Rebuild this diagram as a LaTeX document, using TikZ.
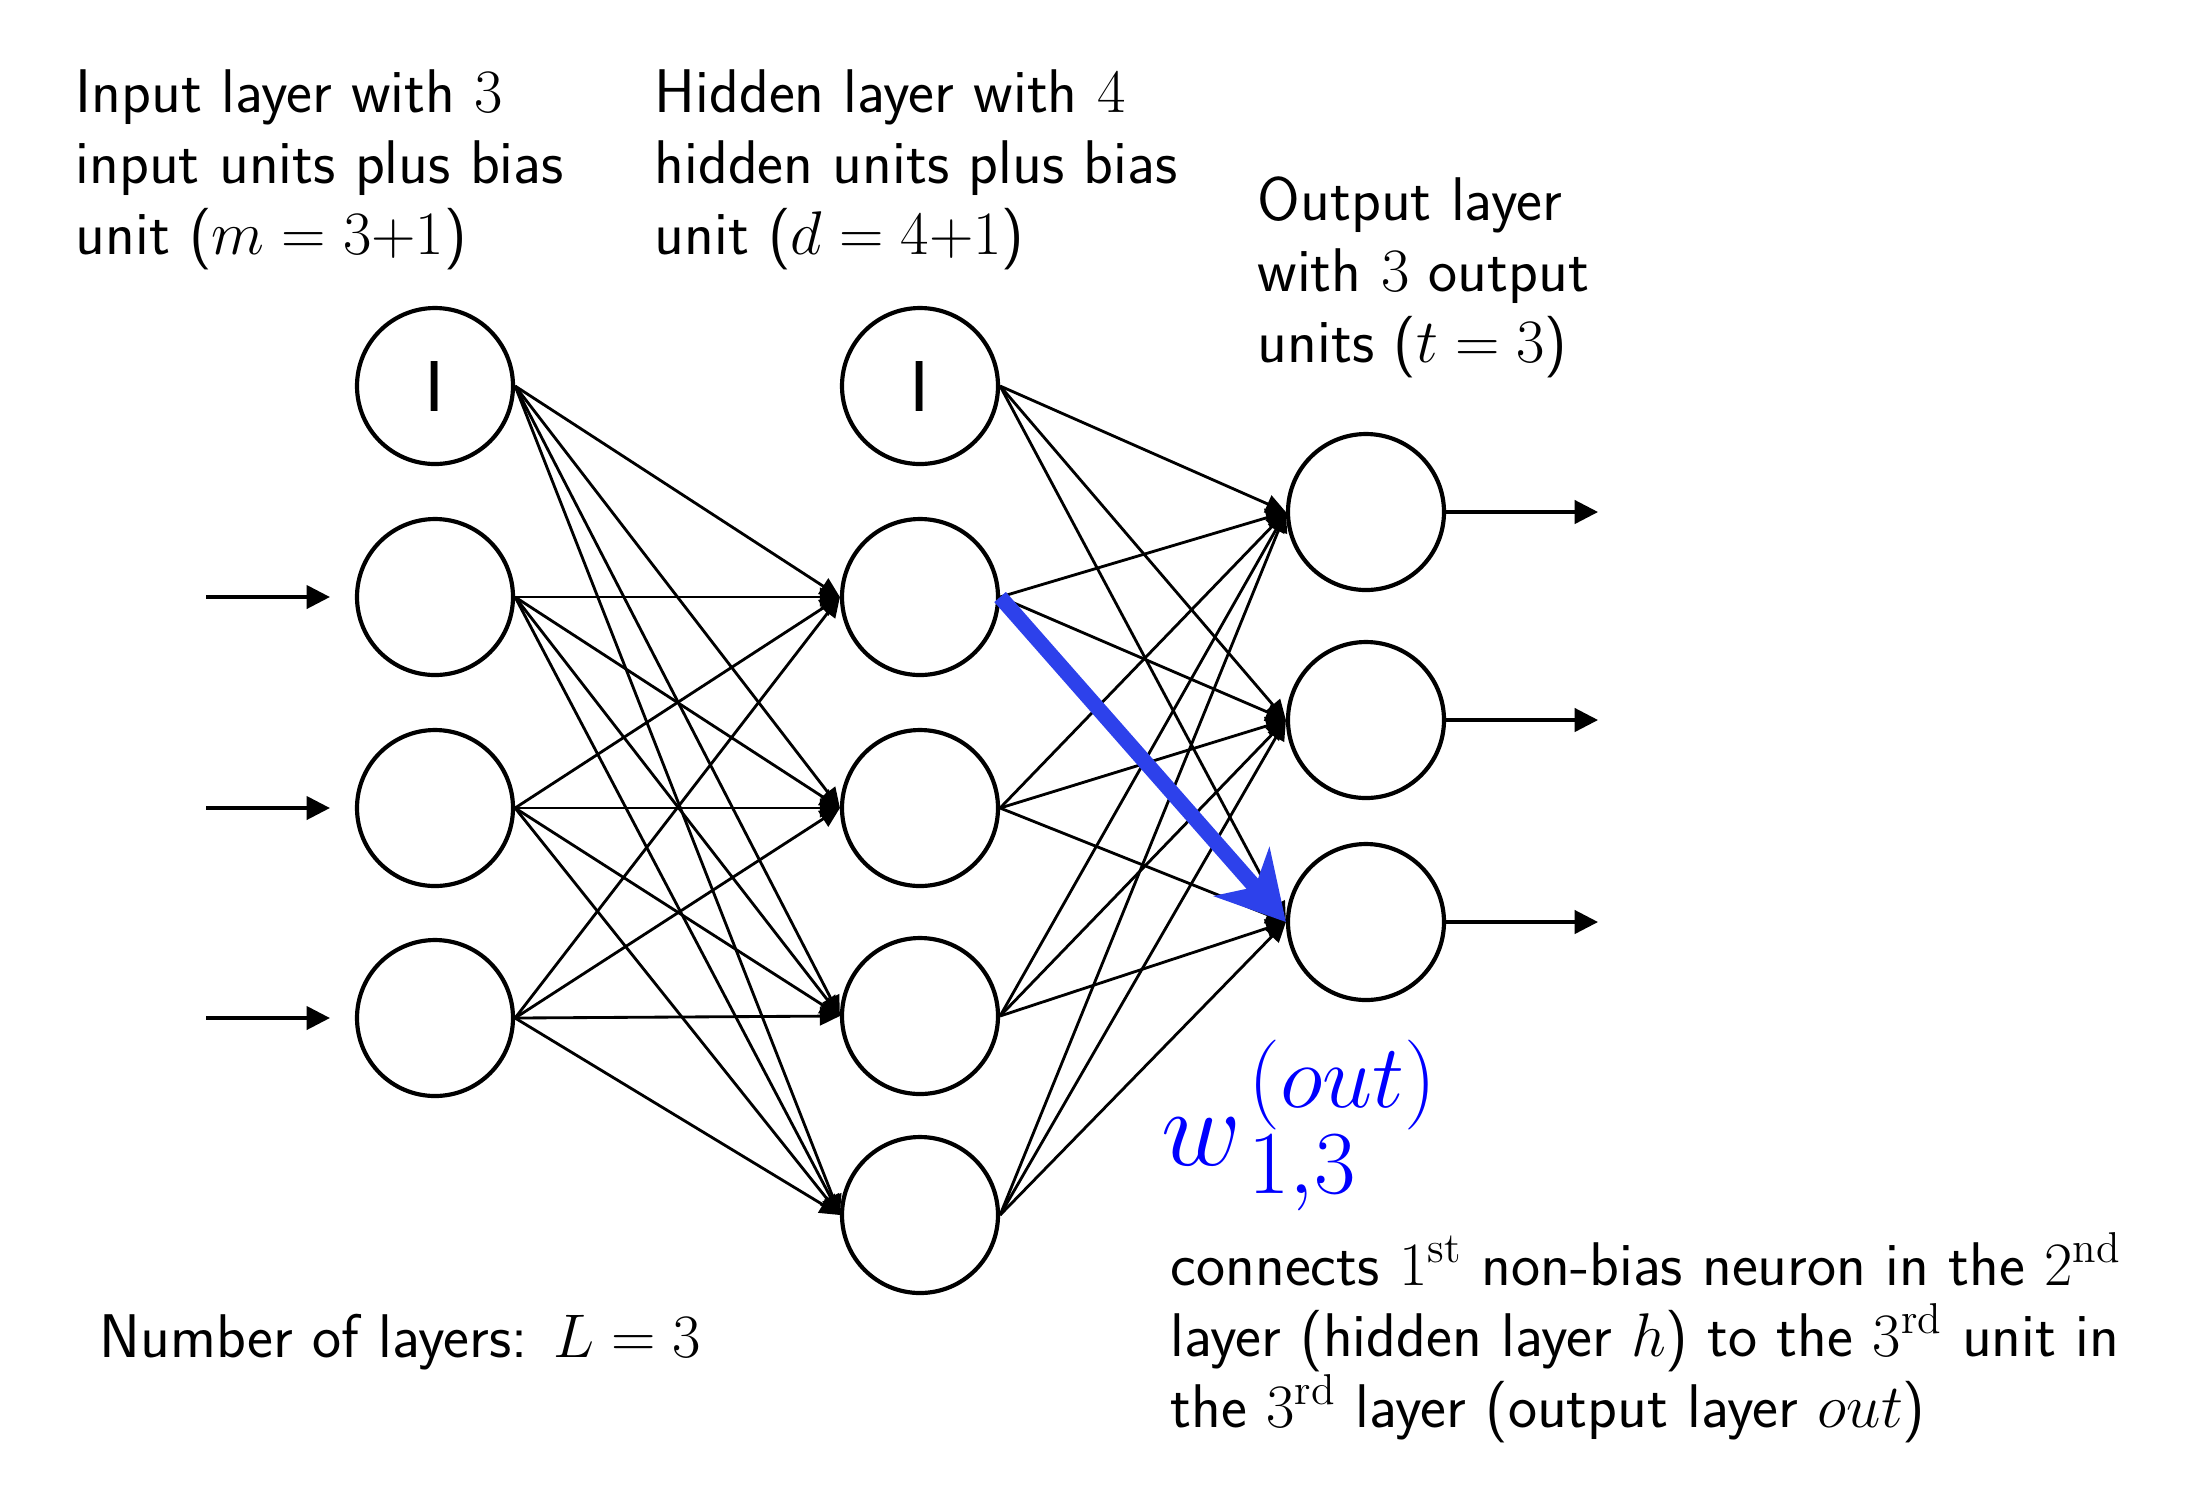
\documentclass[tikz,border=0pt]{standalone}
\usepackage{fix-cm}
\usepackage{fontspec}
\newfontfamily\arialfont{Liberation Sans}
\usetikzlibrary{arrows.meta}
\definecolor{arrowblue}{RGB}{45,65,235}
\begin{document}
\begin{tikzpicture}[x=0.3pt,y=-0.3pt,
  neuron/.style={circle,draw,line width=1.25pt,minimum size=46.8pt,inner sep=0pt},
  bias/.style={neuron,font=\arialfont\fontsize{21.8}{24}\selectfont},
  conn/.style={line width=0.85pt,-{Triangle[length=6pt,width=5.5pt]}},
  io/.style={line width=0.95pt,-{Triangle[length=7pt,width=7pt]}},
  txt/.style={font=\fontsize{18.5}{21.3}\selectfont\sffamily,align=left,anchor=base west,inner sep=0pt},
]
\path[use as bounding box] (0,0) rectangle (2192,1507);
% input layer
\node[bias] (i0) at (435,386) {I};
\node[neuron] (i1) at (435,597) {};
\node[neuron] (i2) at (435,808) {};
\node[neuron] (i3) at (435,1018) {};
% hidden layer
\node[bias] (h0) at (920,386) {I};
\node[neuron] (h1) at (920,597) {};
\node[neuron] (h2) at (920,808) {};
\node[neuron] (h3) at (920,1016) {};
\node[neuron] (h4) at (920,1215) {};
% output layer
\node[neuron] (o1) at (1366,512) {};
\node[neuron] (o2) at (1366,720) {};
\node[neuron] (o3) at (1366,922) {};
% input / output arrows
\coordinate (x1) at (206,597);
\coordinate (x2) at (206,808);
\coordinate (x3) at (206,1018);
\coordinate (y1) at (1598,512);
\coordinate (y2) at (1598,720);
\coordinate (y3) at (1598,922);
\foreach \n in {1,2,3}{
  \draw[io,shorten >=7.5pt] (x\n) -- (i\n.west);
  \draw[io] (o\n.east) -- (y\n);
}
% connections
\foreach \a in {i0,i1,i2,i3}
  \foreach \b in {h1,h2,h3,h4}
    \draw[conn] (\a.east) -- (\b.west);
\foreach \a in {h0,h1,h2,h3,h4}
  \foreach \b in {o1,o2,o3}
    \draw[conn] (\a.east) -- (\b.west);
% highlighted weight
\draw[arrowblue,line width=4.6pt,-{Stealth[length=20pt,width=22pt,inset=6pt]}] (h1.east) -- (o3.west);
% texts (anchor at baseline of last line)
\node[txt] (tin) at (75,254) {Input layer with $3$\\input units plus bias\\unit ($m = 3{+}1$)};
\node[txt] (thid) at (654,254) {Hidden layer with $4$\\hidden units plus bias\\unit ($d = 4{+}1$)};
\node[txt] (tout) at (1257,362) {Output layer\\with $3$ output\\units ($t = 3$)};
\node[txt] (tL) at (99,1357) {Number of layers: $L = 3$};
\node[txt] (tdesc) at (1170,1427) {connects $1^{\mathrm{st}}$ non-bias neuron in the $2^{\mathrm{nd}}$\\layer (hidden layer $h$) to the $3^{\mathrm{rd}}$ unit in\\the $3^{\mathrm{rd}}$ layer (output layer $out$)};
\node[blue,anchor=base west,inner sep=0pt] (wlab) at (1161,1165) {\fontsize{33}{36}\selectfont$w$\kern2pt\rlap{\raisebox{17.4pt}{\fontsize{27}{30}\selectfont$(out)$}}\raisebox{-8.4pt}{\fontsize{27}{30}\selectfont$1{,}3$}};
\end{tikzpicture}
\end{document}
